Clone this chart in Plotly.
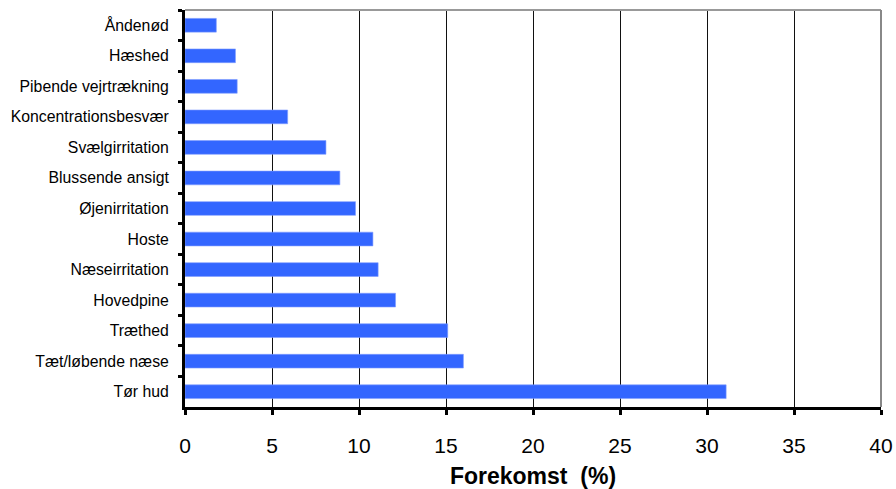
import plotly.graph_objects as go

# Symptoms, listed top to bottom, and their occurrence in percent
symptoms = [
    "Åndenød",
    "Hæshed",
    "Pibende vejrtrækning",
    "Koncentrationsbesvær",
    "Svælgirritation",
    "Blussende ansigt",
    "Øjenirritation",
    "Hoste",
    "Næseirritation",
    "Hovedpine",
    "Træthed",
    "Tæt/løbende næse",
    "Tør hud",
]
occurrence = [1.8, 2.9, 3.0, 5.9, 8.1, 8.9, 9.8, 10.8, 11.1, 12.1, 15.1, 16.0, 31.1]

x_ticks = [0, 5, 10, 15, 20, 25, 30, 35, 40]
x_title = "Forekomst  (%)"

FONT = "Arial, Liberation Sans, sans-serif"

fig = go.Figure(
    go.Bar(
        x=occurrence,
        y=symptoms,
        orientation="h",
        marker=dict(color="#3366ff", line=dict(color="#7f9cff", width=0.6)),
        width=0.45,
    )
)

fig.update_layout(
    width=896,
    height=489,
    margin=dict(l=185, r=15, t=10, b=82),
    paper_bgcolor="white",
    plot_bgcolor="white",
    showlegend=False,
    font=dict(family=FONT, color="black"),
    bargap=0.55,
)

fig.update_xaxes(
    range=[0, 40],
    tickvals=x_ticks,
    ticktext=[str(v) for v in x_ticks],
    showgrid=True,
    gridcolor="#111111",
    gridwidth=1,
    showline=True,
    linecolor="black",
    linewidth=3,
    ticks="outside",
    ticklen=5,
    tickwidth=3,
    tickcolor="black",
    tickfont=dict(size=21, family=FONT),
    ticklabelstandoff=13,
    title=dict(text="<b>" + x_title + "</b>", font=dict(size=23, family=FONT), standoff=15),
    zeroline=False,
    automargin=False,
)

fig.update_yaxes(
    autorange="reversed",
    showgrid=False,
    showline=True,
    linecolor="black",
    linewidth=3,
    ticks="outside",
    tickson="boundaries",
    ticklen=4,
    tickwidth=3,
    tickcolor="black",
    tickfont=dict(size=15.8, family=FONT),
    ticklabelstandoff=10,
    automargin=False,
)

# Gray frame along the top and right of the plot area
fig.add_shape(type="line", xref="paper", yref="paper", x0=0, x1=1, y0=1, y1=1,
              line=dict(color="#999999", width=2))
fig.add_shape(type="line", xref="paper", yref="paper", x0=1, x1=1, y0=0, y1=1,
              line=dict(color="#888888", width=2))

fig.write_html("out.html")
